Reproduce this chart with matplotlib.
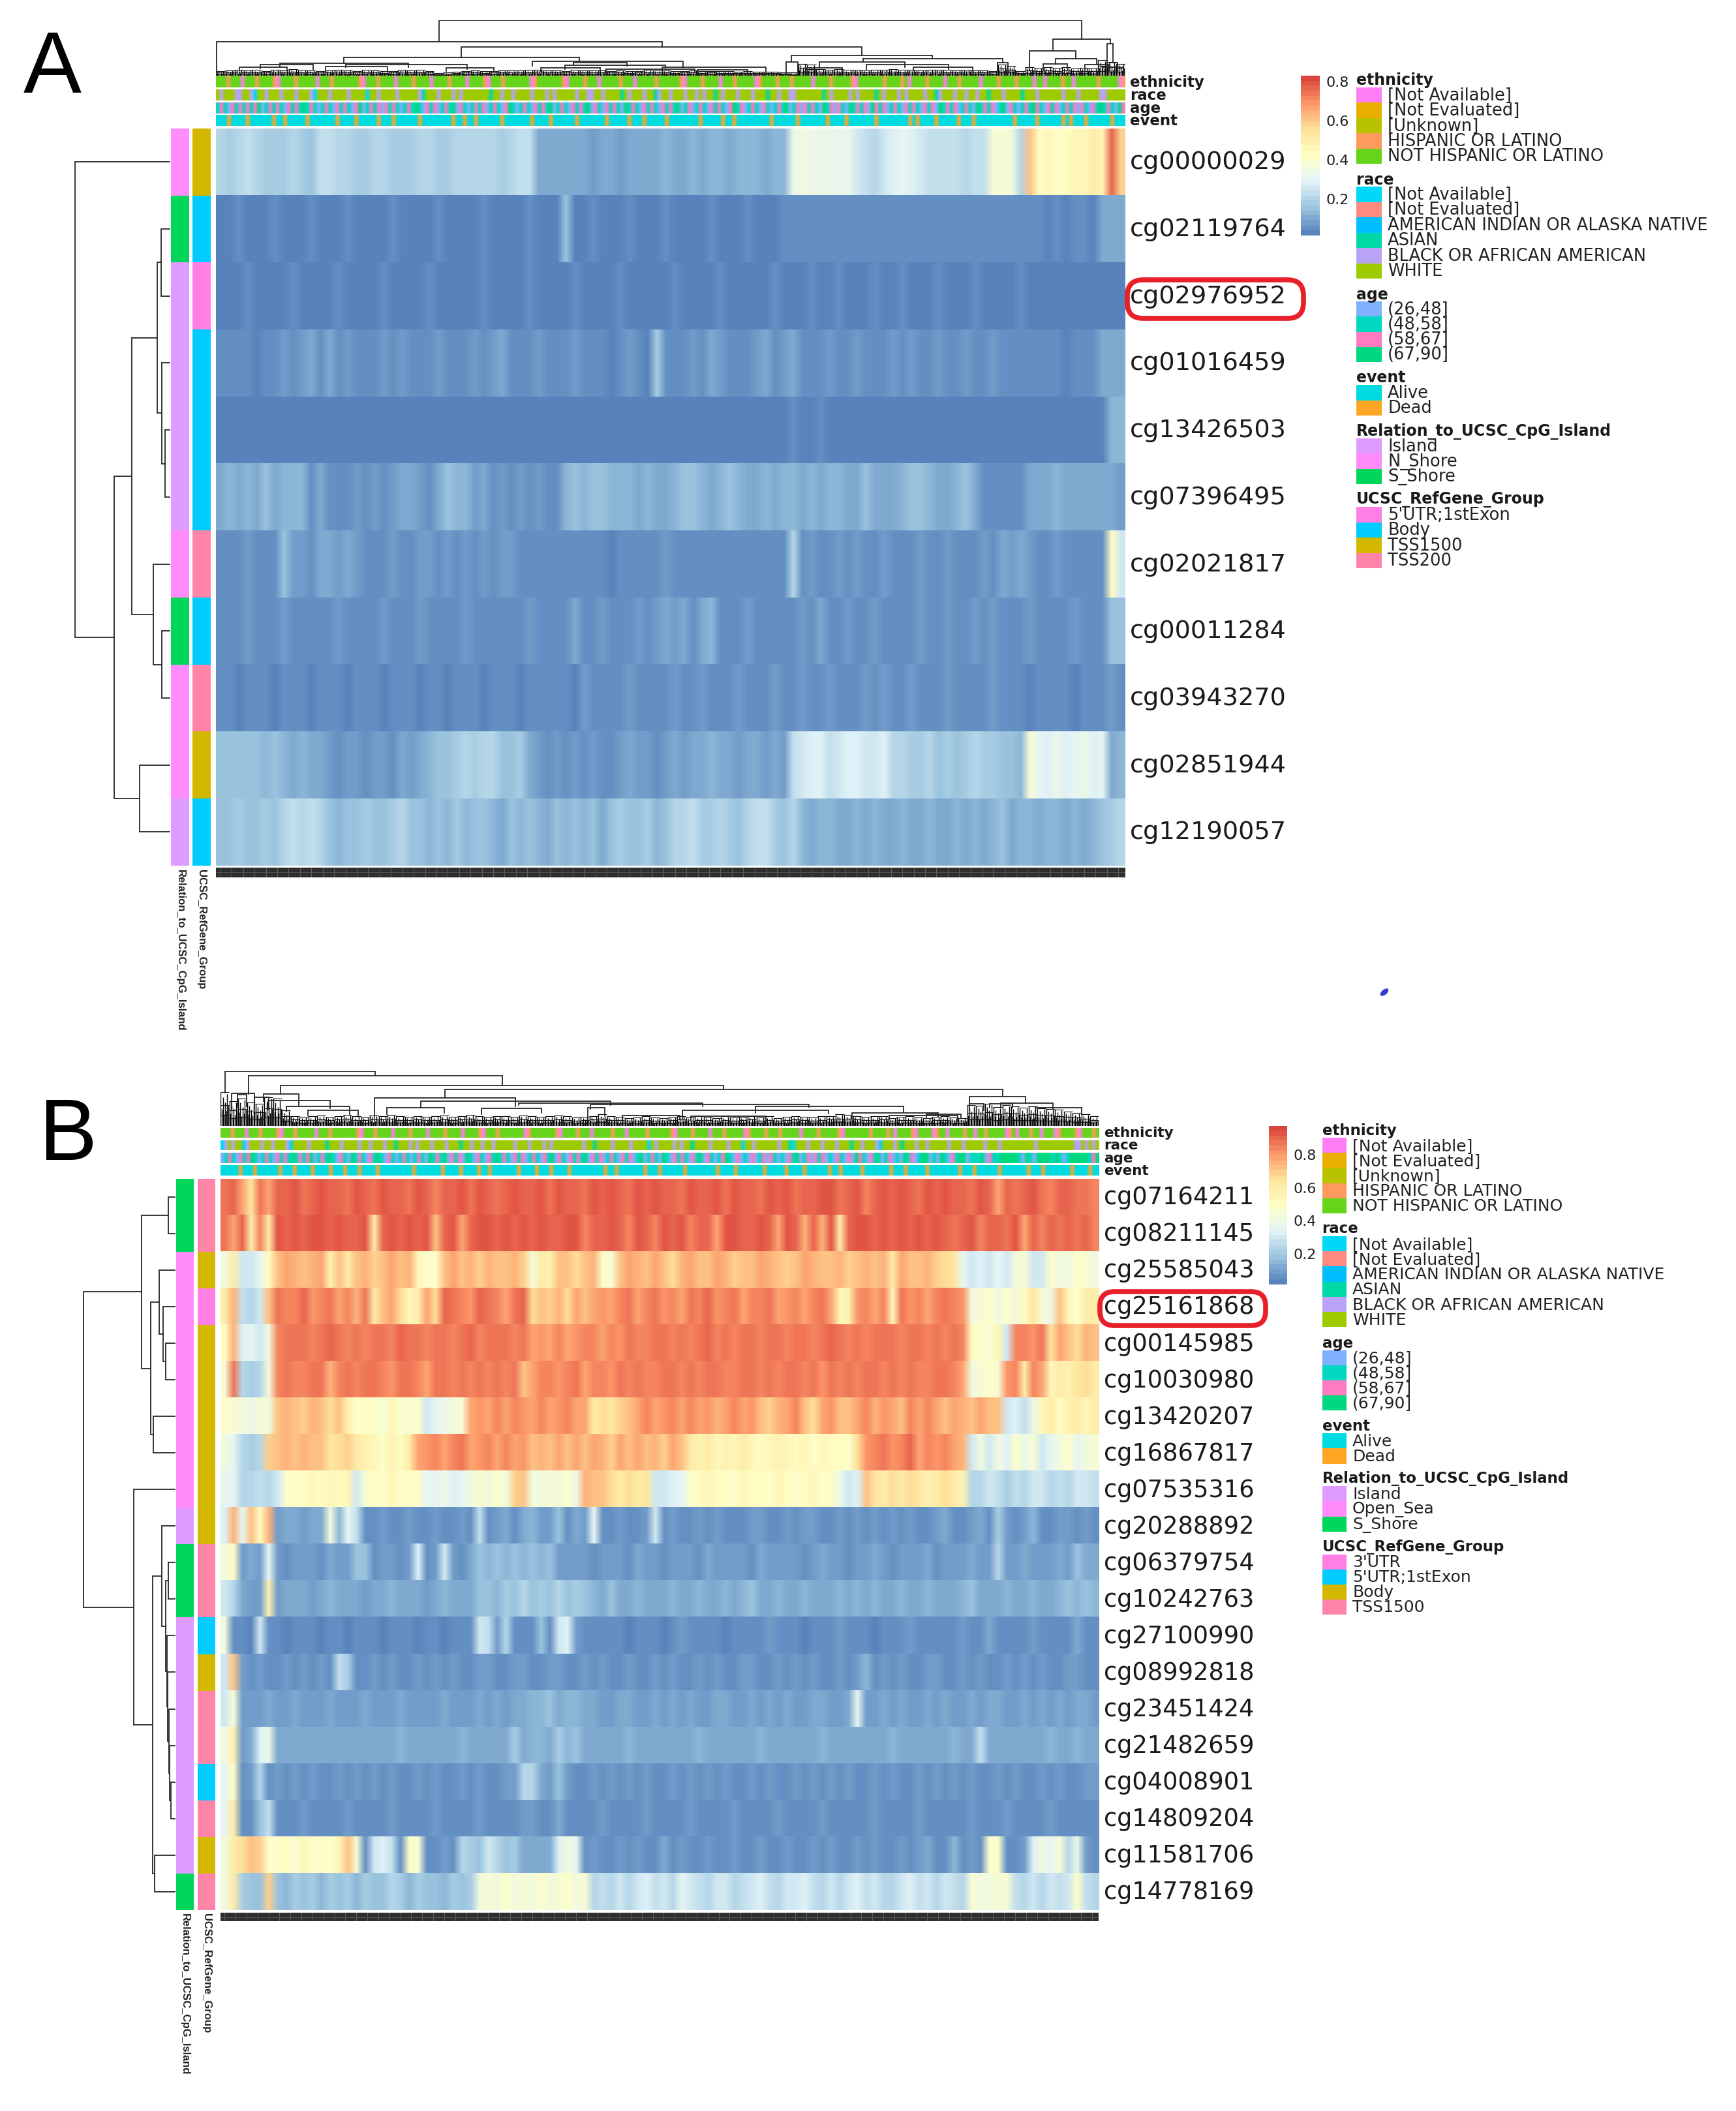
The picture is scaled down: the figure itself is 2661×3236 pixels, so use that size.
import numpy as np
import matplotlib
matplotlib.use("Agg")
import matplotlib.pyplot as plt
from matplotlib.colors import LinearSegmentedColormap, Normalize, to_rgb
from matplotlib.cm import ScalarMappable
from matplotlib.patches import FancyBboxPatch, Rectangle, Ellipse

W, H = 2661, 3237

# ---------- DATA: panel A ----------
a_labels = ["cg00000029","cg02119764","cg02976952","cg01016459","cg13426503","cg07396495",
            "cg02021817","cg00011284","cg03943270","cg02851944","cg12190057"]
a_rows = [
 [19,18,20,22,19,18,17,18,19,17,16,22,23,20,19,18,17,19,20,18,17,18,19,20,18,17,19,20,21,20,19,18,21,22,23,11,10,9,11,10,9,8,10,9,8,10,11,9,10,12,11,10,12,11,13,12,11,12,13,12,11,12,13,33,35,32,34,33,31,32,26,22,20,26,28,30,27,25,23,24,22,23,21,22,24,37,38,35,20,60,44,46,40,42,46,45,50,47,76,58],
 [3,2,4,2,3,2,4,3,2,3,4,2,3,2,4,3,3,2,3,4,3,2,2,3,4,2,2,3,3,4,3,3,2,3,4,3,3,2,14,3,3,4,2,3,3,4,3,2,3,4,3,3,2,3,4,3,3,2,4,3,3,3,4,5,4,6,5,4,5,6,4,5,4,5,4,6,5,4,4,5,6,4,4,5,4,6,4,5,4,4,4,3,4,3,4,4,3,9,10,9],
 [3,2,3,4,2,3,3,2,4,3,2,3,3,4,2,3,3,2,4,3,3,2,3,4,2,3,3,2,3,4,3,2,3,3,4,2,3,3,2,4,3,3,2,3,4,3,2,3,3,2,4,3,2,3,3,4,2,3,3,2,3,4,3,3,3,4,2,3,4,3,3,2,4,3,3,4,2,3,3,4,3,2,3,4,3,3,2,3,4,3,2,3,3,2,3,3,2,3,3,2],
 [5,4,6,5,3,6,4,7,5,8,9,6,10,5,7,6,4,6,8,5,7,4,6,5,7,4,6,5,8,4,7,9,5,6,4,7,5,6,4,7,5,6,4,3,5,7,4,3,18,6,5,4,7,5,10,8,5,4,6,7,9,5,7,10,5,4,5,8,4,6,7,4,5,6,8,4,7,5,6,8,5,4,7,6,5,8,4,6,5,4,6,4,5,3,5,4,6,10,11,9],
 [3,2,3,3,2,3,3,2,3,3,3,2,3,3,2,3,3,2,3,3,2,3,3,2,3,3,2,3,3,3,2,3,3,2,3,3,2,3,3,2,3,3,2,3,3,2,3,3,3,2,3,3,2,3,3,2,3,3,2,3,3,2,3,5,3,3,4,3,2,3,3,3,2,3,3,3,2,3,3,2,3,3,2,3,3,2,3,3,2,3,2,3,3,2,3,3,2,3,13,12],
 [11,12,10,13,11,14,11,12,13,12,5,10,5,6,5,7,6,8,5,8,9,10,7,6,11,14,12,13,8,9,6,7,5,8,6,7,6,5,13,14,12,15,14,13,12,13,11,12,10,11,13,14,15,12,11,12,14,13,11,10,12,11,13,12,10,12,11,12,13,11,11,14,10,9,11,12,14,15,13,11,10,12,14,11,5,4,5,4,5,10,9,11,12,10,9,11,9,10,9,8],
 [6,5,4,7,5,4,5,15,7,8,6,9,10,8,11,7,6,5,6,7,5,6,7,8,6,7,5,8,6,7,5,8,7,6,5,6,5,4,5,4,6,5,4,3,5,4,5,4,6,7,4,5,6,4,5,4,6,5,4,5,4,5,6,20,5,7,6,4,8,5,7,6,5,8,6,5,6,7,5,6,8,6,5,6,7,5,9,8,10,7,6,5,7,6,5,4,6,5,42,25],
 [5,6,5,7,4,6,5,8,6,5,4,6,5,7,5,6,4,5,7,6,4,5,7,6,5,6,4,7,5,6,4,5,6,4,7,5,6,4,5,10,6,5,7,6,4,5,7,6,8,9,7,10,5,11,13,6,5,6,7,4,5,6,5,6,8,5,9,6,5,7,4,6,8,5,6,4,5,7,6,5,7,4,5,8,6,7,5,4,6,7,5,6,4,5,7,5,6,4,15,16],
 [4,5,3,6,4,5,3,5,4,6,3,5,4,5,3,6,4,5,3,5,4,6,3,5,4,3,6,4,5,3,4,6,5,3,4,5,6,4,5,3,7,5,6,4,5,7,4,6,5,4,7,6,5,7,6,4,5,7,6,5,4,7,5,6,8,5,6,7,5,4,6,8,5,7,6,5,8,6,5,4,7,5,6,4,5,7,4,6,5,3,5,4,6,5,3,4,5,4,7,6],
 [15,14,16,15,14,13,15,12,11,13,10,9,7,6,8,7,6,8,7,6,9,7,11,12,15,14,18,19,17,19,20,16,15,18,9,7,6,8,5,7,6,8,5,6,7,9,7,8,6,8,9,7,11,10,12,9,11,8,10,9,7,9,8,22,26,28,29,24,26,29,27,25,26,28,21,19,18,17,19,16,18,15,17,19,18,17,15,14,13,38,31,29,32,28,30,32,29,30,11,12],
 [14,16,18,15,14,17,15,21,22,20,23,21,15,13,16,14,18,16,15,17,19,16,14,13,15,13,17,12,14,15,13,11,14,12,16,13,11,15,12,16,13,15,11,14,17,16,15,17,13,14,20,19,22,18,17,21,18,16,19,22,23,17,15,21,12,11,13,12,10,11,13,10,12,11,9,12,10,11,13,10,9,12,11,13,10,12,14,11,13,12,11,13,12,10,13,11,13,15,17,20],
]
a_rel = [1,2,0,0,0,0,1,2,1,1,0]
a_ref = [2,1,0,1,1,1,3,1,3,2,1]
a_ethnicity = "444344404443444430444434444404443444444430444344440444434444044443444404444304443444444403444444430444434440444443444044444344444430444434444044434444403444434443444440444434444430444444434444340444434444044434444404444344443444404404444344044444434444403"
a_race = "545554455405545554555455540555455554555505545555455555435554555454555555535545545555455545455555455445545555354555455345545554554545535455545554555355455445555555354555545455553545554545555455345554554554553555455553555455555545554555554455555"
a_age = "121021212123012121021213121012102121023012120212101213102120121302101212012102310121021213012102121302102121031210212102121301201210212102312012102101213012021210312021031212032120121021210212031212012103121201302101213210212012120210213121032"
a_event = "000100001000000100100000100000001000010000010001000000100000000100100100000010000000100001000000100000001000001000100000100000000100000100100000000010000001000000010000100000001000000001010000100000100010000000000100000100000010100010000001000"
a_forest = [22,25,28,24,26,22,27,25,30,26,24,22,25,28,24,22,26,24,20,22,28,24,26,22,12,14,18,22,24,20,22,25,23,24,26,28,25,24,22,26,24,23,25,22,24,21,22,26,23,24,20,22,24,21,22,20,21,18,20,19,17,18,15,14,55,50,30,28,30,26,28,24,26,28,30,26,28,25,27,28,26,25,28,24,25,22,52,45,20,38,36,40,35,38,32,36,34,70,62,55]
a_links = [
 (378,1465,253,155,168),(1,755,155,0,132),(415,1093,132,83,92),(216,615,83,57,65),
 (108,326,57,42,38),(75,165,50,32,30),(40,120,40,25,20),(220,425,52,40,30),(185,290,42,25,25),
 (390,470,35,20,20),(535,790,65,45,40),(605,695,60,50,45),(590,760,48,30,35),(550,650,35,20,20),
 (755,930,40,25,15),(660,810,30,15,15),(815,900,28,15,15),(973,1212,92,62,78),(965,985,62,5,5),
 (1095,1331,78,62,60),(1021,1166,62,35,40),(1100,1240,50,30,30),(1000,1060,35,20,20),(1180,1280,40,25,20),
 (1322,1340,60,15,15),(1416,1513,168,113,145),(1376,1455,113,25,76),(1421,1490,76,55,50),(1400,1440,55,25,30),
 (1470,1510,50,20,25),(1508,1518,145,40,60),(1512,1525,60,20,15),(1500,1535,40,15,15),
]
a_tree = (145, 0, (85, (58, (19, (13, 1, 2), (12, 3, (7, 4, 5))), (25, 6, (12, 7, 8))), (46, 9, 10)))

# ---------- DATA: panel B ----------
b_labels = ["cg07164211","cg08211145","cg25585043","cg25161868","cg00145985","cg10030980","cg13420207",
            "cg16867817","cg07535316","cg20288892","cg06379754","cg10242763","cg27100990","cg08992818",
            "cg23451424","cg21482659","cg04008901","cg14809204","cg11581706","cg14778169"]
b_rows = [
 [85,88,78,62,86,76,90,88,91,87,90,92,88,90,86,91,89,87,92,90,88,85,91,89,84,90,88,92,86,91,89,87,90,93,88,90,91,87,92,89,90,86,91,88,93,90,87,91,89,92,90,88,86,91,89,90,92,87,91,88,90,86,92,89,91,87,90,88,93,91,87,90,92,82,89,91,88,92,90,87,91,89,92,88,90,87,91,88,78,90,85,88,92,86,84,90,88,85,86,82],
 [86,78,88,60,82,58,91,90,92,89,91,93,90,92,88,90,91,60,90,92,88,91,89,92,72,90,91,78,89,92,91,88,93,90,91,89,92,90,88,91,93,84,90,88,92,88,84,91,88,82,91,90,92,84,90,88,76,91,92,88,90,93,89,78,91,90,74,88,74,92,60,90,93,91,88,92,90,91,89,93,88,91,90,87,89,92,82,90,88,86,91,78,88,84,90,85,88,86,90,84],
 [42,60,30,30,35,50,72,76,74,70,75,78,55,72,58,70,74,68,72,76,70,74,52,48,46,72,76,70,74,68,75,72,70,74,68,44,60,56,72,70,66,70,74,46,44,72,78,74,70,76,72,66,74,78,70,72,76,74,68,72,70,76,74,70,68,72,76,74,72,70,74,68,72,75,70,74,60,76,72,70,74,68,64,62,34,28,32,30,36,28,42,44,30,28,48,40,42,46,44,42],
 [60,75,26,24,28,72,86,84,82,88,80,84,86,78,82,74,85,58,70,78,64,54,60,76,64,88,86,84,80,88,85,82,78,86,88,64,72,68,74,66,76,72,76,80,78,84,86,76,82,86,80,84,78,86,82,88,80,84,86,78,82,84,86,78,80,84,78,82,86,76,52,56,80,84,78,82,54,86,80,84,76,82,86,84,80,42,44,46,42,48,40,50,62,44,38,70,52,46,60,58],
 [50,75,32,36,30,40,84,86,85,87,84,86,88,85,84,86,83,87,85,84,88,85,86,84,87,85,83,86,88,84,86,85,87,84,86,76,80,78,82,76,80,84,82,78,84,80,86,82,84,86,85,83,87,84,86,88,84,85,83,87,86,84,85,87,83,86,85,84,86,88,85,84,86,83,87,85,86,84,87,85,83,86,84,87,82,50,46,44,52,28,82,84,80,86,62,78,72,66,74,70],
 [45,85,22,20,24,42,84,86,84,82,86,85,74,84,86,83,85,87,84,80,85,86,84,76,85,87,84,86,82,85,84,86,83,85,72,78,84,82,80,84,86,76,84,82,80,85,83,86,84,82,85,87,84,86,83,85,87,84,82,86,85,84,86,83,85,87,84,86,80,85,84,86,82,85,87,84,86,83,85,84,82,86,85,84,78,42,45,48,44,80,84,58,82,78,52,60,56,62,64,58],
 [46,44,40,38,44,42,70,74,72,68,74,70,66,72,56,48,50,46,44,52,48,44,46,30,34,38,42,44,78,80,76,82,78,84,80,76,82,78,80,84,78,76,60,66,62,68,70,78,82,76,80,84,78,82,76,80,74,78,82,76,80,72,68,74,78,82,72,64,76,80,70,72,78,82,74,80,76,70,82,78,84,76,72,78,74,72,76,70,72,28,32,26,38,52,58,50,56,60,54,58],
 [40,36,24,20,22,68,72,74,70,75,72,70,62,66,68,60,56,54,48,55,50,60,76,80,84,78,82,86,76,80,84,78,82,76,80,72,74,70,78,72,76,70,78,74,68,76,72,78,70,74,68,76,72,60,56,58,52,56,54,58,52,50,54,56,52,50,54,48,52,50,50,48,64,80,84,86,80,82,88,78,84,80,82,78,74,30,40,28,42,32,48,38,44,30,36,42,46,34,40,44],
 [35,36,24,22,25,23,30,46,50,48,52,50,54,49,52,30,44,50,46,52,48,50,46,36,34,38,32,36,42,44,40,46,42,68,70,42,40,44,42,46,38,74,70,72,64,60,66,58,62,30,28,32,34,48,50,52,49,51,48,52,50,49,48,52,50,48,51,52,48,50,38,30,32,70,62,60,66,58,64,62,56,60,66,58,56,24,22,28,25,20,26,24,28,30,22,26,24,28,30,25],
 [32,75,35,70,50,75,8,10,12,9,11,10,40,14,34,26,6,5,7,6,5,8,6,5,7,5,6,8,5,25,5,8,10,6,12,14,7,8,16,5,10,9,35,6,5,7,5,6,8,30,5,7,6,5,8,5,7,6,5,5,8,7,5,6,8,5,7,9,5,6,8,5,7,6,9,5,8,5,7,6,5,8,10,6,5,9,11,5,20,7,6,8,14,6,5,7,9,5,8,6],
 [40,50,8,10,7,36,7,6,8,7,9,6,10,7,8,16,18,6,7,8,6,9,32,6,8,30,7,6,12,16,14,18,15,17,13,16,14,18,8,9,7,8,6,9,7,8,6,10,7,8,6,9,8,7,6,10,8,7,9,8,6,10,7,8,9,7,6,8,10,7,9,6,8,7,10,8,6,9,7,8,10,6,9,7,8,10,7,8,22,9,8,10,7,9,8,12,9,16,11,10],
 [30,22,10,9,8,55,9,11,10,12,9,11,13,10,12,11,9,12,10,13,11,10,12,9,11,13,10,12,11,16,18,14,20,16,22,18,20,16,22,18,20,16,14,12,16,11,10,13,11,12,10,14,12,11,13,10,12,14,11,13,16,12,11,14,12,10,13,11,12,10,14,11,13,12,15,11,10,13,12,11,14,10,12,11,13,18,12,10,11,13,12,11,14,12,10,13,16,14,18,15],
 [42,5,4,3,28,5,4,3,5,4,6,3,5,4,3,6,5,4,3,5,6,4,3,5,4,3,6,5,4,28,26,7,22,4,6,5,17,5,30,32,9,4,5,6,4,5,3,6,5,4,3,6,7,5,4,6,5,3,4,6,5,4,7,6,4,5,3,6,4,5,7,4,6,5,3,6,5,4,7,5,6,4,6,5,7,6,5,12,6,4,6,5,7,4,6,5,4,12,5,6],
 [30,70,7,5,8,6,5,7,6,8,5,7,6,26,20,6,5,7,6,8,5,6,7,5,8,6,7,5,6,8,7,5,6,8,7,6,5,7,8,6,5,7,6,8,5,6,7,5,6,8,5,7,6,5,8,6,7,5,6,7,8,5,6,7,5,8,6,7,5,6,8,5,7,14,6,8,5,7,6,5,8,7,6,5,7,6,8,5,6,7,5,8,6,7,5,6,8,7,6,5],
 [30,45,8,9,7,10,8,9,10,8,7,9,10,8,9,7,10,8,9,7,10,9,8,7,9,10,8,9,7,10,8,11,9,12,11,14,13,16,12,15,14,11,10,8,9,11,10,8,9,10,8,11,9,10,8,9,11,10,9,8,10,9,11,8,10,9,8,11,10,9,8,10,36,9,8,10,9,11,8,9,10,8,11,9,8,10,9,11,10,9,8,10,9,11,8,10,9,11,10,9],
 [40,55,9,10,32,38,11,10,12,11,10,12,10,11,12,10,11,12,10,11,13,10,12,11,10,12,11,13,10,12,11,10,12,20,12,14,13,12,20,14,16,12,11,10,12,11,13,10,12,11,10,12,11,10,13,12,10,11,12,10,11,13,12,10,11,12,10,11,13,12,10,12,11,10,12,11,13,10,12,11,10,12,11,13,10,12,26,11,10,12,11,10,12,11,13,10,12,14,11,12],
 [35,50,6,7,22,6,7,5,8,6,7,5,6,8,5,7,6,8,5,7,6,5,8,6,7,5,6,8,5,7,6,5,8,7,24,23,10,8,18,7,6,5,8,6,7,5,8,6,7,5,6,8,5,7,6,8,5,7,6,5,8,6,7,5,6,8,5,7,6,8,5,7,6,5,8,6,7,5,6,8,5,7,6,8,5,7,6,5,8,6,7,5,6,8,5,7,6,5,8,7],
 [35,60,5,6,16,26,5,6,4,7,5,6,4,5,7,6,4,5,6,7,4,5,6,4,7,5,6,4,5,7,6,5,4,6,8,7,5,6,10,5,4,6,5,7,4,6,5,4,7,6,5,4,6,7,5,4,6,5,7,4,6,5,4,7,5,6,4,5,7,6,5,4,6,5,7,4,6,5,4,7,6,5,4,6,5,7,4,6,5,7,4,6,5,4,7,5,6,4,6,5],
 [42,60,65,72,68,48,46,50,45,52,46,50,48,52,70,45,6,30,32,26,5,48,45,6,5,7,6,24,20,16,30,24,16,20,11,10,12,11,32,42,36,5,7,6,4,8,5,7,6,4,10,5,8,6,4,7,5,6,8,5,4,7,6,5,8,4,6,7,5,8,6,4,7,5,8,6,4,7,5,8,12,6,4,14,6,8,5,48,46,6,5,8,32,42,36,45,22,38,8,6],
 [42,60,20,18,16,68,18,14,20,16,21,15,19,17,21,14,20,18,16,22,20,15,21,18,16,14,20,17,21,42,44,40,46,42,45,40,48,42,44,46,41,43,24,27,22,30,24,28,33,26,30,24,35,28,26,22,30,28,24,26,30,33,26,24,30,28,33,26,22,30,24,28,33,26,30,24,22,28,33,26,30,24,28,26,22,44,42,40,45,43,26,22,30,24,28,26,30,48,26,22],
]
b_rel = [2,2,1,1,1,1,1,1,1,0,2,2,0,0,0,0,0,0,0,2]
b_ref = [3,3,2,0,2,2,2,2,2,2,3,3,1,2,3,3,1,3,2,3]
b_ethnicity = "444344404443444430444344444044434444444304443444404444344440444434444044443044434444444034444444304444344404444434440444443444444304444344440444344444034444344434444404444344444304444444344443404444304444034404444344044344444034044434404440344443044434"
b_race = "045455045554554555405555455553555455554554555455355545455545554555355455455455555455545554545555555545535555455554555505455554545535555455554555055455555545530555455545554555355455540555453555455455555455545555545554555555555455555555554454545"
b_age = "012102123101210212131212301213102103121021310210121012103121302120310210213121021201210213021021213021201210212013012103102121021302101231020102012021010213012021201021020321021301201031201330103102133011130211333331031033331310133333123"
b_event = "000001000100000010001000010000100010001000010000000001000000010000100001001000000010000100010000100000000010010000000100010000001000000001000010000000100000100001000000100100000100000001000100000100000000100010000001000000010001000000010000100"
b_forest = [130,95,105,90,85,110,105,60,38,34,36,40,35,38,42,36,34,40,38,42,36,34,38,35,36,40,34,38,42,36,35,38,36,34,40,37,34,36,40,36,32,35,38,45,36,34,30,33,36,32,30,34,38,32,36,34,30,36,32,34,38,33,36,30,34,38,35,32,36,38,45,42,38,34,36,38,30,34,36,32,30,34,36,32,30,80,78,85,72,80,76,70,74,68,66,62,56,50,44,36]
b_links = [
 (9,270,213,128,195),(49,492,195,123,155),(105,877,155,122,140),(75,137,122,95,80),(83,192,98,62,68),
 (115,225,75,55,45),(153,240,60,40,35),(391,1363,140,108,113),(269,514,108,30,75),(290,390,70,45,50),
 (349,680,95,70,80),(455,560,68,45,50),(520,840,88,80,75),(640,670,70,25,40),(645,1025,83,65,72),
 (805,1060,60,30,48),(932,1190,76,50,52),(1100,1250,50,30,35),(700,800,40,25,25),(1165,1285,40,25,20),
 (820,950,38,20,20),(1305,1403,113,85,88),(1340,1380,85,70,70),(1360,1450,88,70,65),(1420,1500,70,55,45),
 (1305,1330,85,60,60),(1230,1290,45,30,30),(20,60,125,60,80),(30,46,120,70,75),(60,85,110,60,70),
]
b_tree = (140, (51, (10, 0, 1), (37, (24, 2, (18, 3, (14, 4, 5))), (33, 6, 7))),
          (63, 8, (34, (20, 9, (14, (10, 10, 11),
                                (12, 12, (11, 13, (9, 14, (8, 15, (6, 16, 17))))))),
                   (31, 18, 19))))

# ---------- legends ----------
eth_names = ["[Not Available]","[Not Evaluated]","[Unknown]","HISPANIC OR LATINO","NOT HISPANIC OR LATINO"]
eth_cols = ["#FF7DF5","#E8AE00","#B8C200","#FF9A5C","#66D41A"]
race_names = ["[Not Available]","[Not Evaluated]","AMERICAN INDIAN OR ALASKA NATIVE","ASIAN","BLACK OR AFRICAN AMERICAN","WHITE"]
race_cols = ["#00D8F8","#FF8A80","#00BEFF","#00D9A5","#B9A3F5","#9DCB00"]
age_names = ["(26,48]","(48,58]","(58,67]","(67,90]"]
age_cols = ["#80B1FF","#00D9C0","#FF7AC0","#00D87F"]
event_names = ["Alive","Dead"]
event_cols = ["#00DBE0","#FFA625"]
a_rel_names = ["Island","N_Shore","S_Shore"]
b_rel_names = ["Island","Open_Sea","S_Shore"]
rel_cols = ["#DF9BFF","#FF8CFA","#00D65A"]
a_ref_names = ["5'UTR;1stExon","Body","TSS1500","TSS200"]
b_ref_names = ["3'UTR","5'UTR;1stExon","Body","TSS1500"]
ref_cols = ["#FF7FE5","#00CCFF","#D4B800","#FF85A8"]
bar_names = ["ethnicity","race","age","event"]
cbar_ticks = [0.2,0.4,0.6,0.8]

# ---------- helpers ----------
base = ["#4575B4","#91BFDB","#E0F3F8","#FFFFBF","#FEE090","#FC8D59","#D73027"]
rgb = np.array([to_rgb(c) for c in base])*0.9+0.1
cmap = LinearSegmentedColormap.from_list("rb", [tuple(c) for c in rgb], N=32)

fig = plt.figure(figsize=(W/100, H/100), dpi=100, facecolor="white")
def axpx(x0, y0, x1, y1):
    a = fig.add_axes([x0/W, 1-y1/H, (x1-x0)/W, (y1-y0)/H])
    a.set_axis_off()
    return a
top = fig.add_axes([0,0,1,1], zorder=20)
top.set_xlim(0,W); top.set_ylim(H,0); top.set_axis_off(); top.patch.set_alpha(0)

TXT = "DejaVu Sans"

def heat(rows, box, vmin, vmax):
    ax = axpx(*box)
    n = len(rows)
    norm = Normalize(vmin, vmax)
    for i, r in enumerate(rows):
        colours = cmap(norm(np.array(r, float)/100))[:,:3]
        ax.imshow(colours[None,:,:], extent=(0,1,n-i-1,n-i), aspect="auto", interpolation="bilinear")
    ax.set_xlim(0,1); ax.set_ylim(0,n)

def strip(vals, cols, box, vertical=False):
    ax = axpx(*box)
    c = np.array([to_rgb(cols[v]) for v in vals])
    arr = c[:,None,:] if vertical else c[None,:,:]
    ax.imshow(arr, aspect="auto", interpolation="nearest" if vertical else "bilinear")

def digits(s):
    return [int(c) for c in s]

def top_dendro(links, forest, box, xmax, ymax):
    ax = axpx(*box)
    ax.set_xlim(0,xmax); ax.set_ylim(0,ymax)
    w = xmax/len(forest)
    pattern = (1.0,0.5,0.85,0.35,0.7,0.45,0.95,0.6)
    fx, fh = [], []
    for i, h in enumerate(forest):
        for j, k in enumerate(pattern):
            fx.append((i+j/len(pattern)+0.05)*w); fh.append(h*k)
    ax.vlines(fx, 0, fh, color="#000000", lw=1.0)
    for i, h in enumerate(forest):
        ax.hlines([h,h*0.62,h*0.3], i*w, (i+1)*w, color="#111111", lw=0.8)
    for xl, xr, t, bl, br in links:
        ax.plot([xl,xl,xr,xr],[bl,t,t,br], color="#262626", lw=1.3, solid_joinstyle="miter")

def side_tree(tree, box, dmax, n):
    ax = axpx(*box)
    ax.set_xlim(dmax,0); ax.set_ylim(n,0)
    def rec(node):
        if isinstance(node,int):
            return node+0.5, 0
        d,l,r = node
        yl,dl = rec(l); yr,dr = rec(r)
        ax.plot([dl,d,d,dr],[yl,yl,yr,yr], color="#262626", lw=1.3, solid_joinstyle="miter", clip_on=False)
        return (yl+yr)/2, d
    rec(tree)

def cbar(box, vmin, vmax, fs):
    cax = fig.add_axes([box[0]/W, 1-box[3]/H, (box[2]-box[0])/W, (box[3]-box[1])/H])
    cb = fig.colorbar(ScalarMappable(Normalize(vmin,vmax),cmap), cax=cax, ticks=cbar_ticks)
    cb.outline.set_visible(False)
    cb.ax.tick_params(length=0, pad=7, labelsize=fs, colors="#222222")
    cb.set_ticklabels(["%.1f"%t for t in cbar_ticks])

def legend_group(title, names, cols, ttl_y, y0, y1, sx0, sx1, tx, fs):
    top.text(sx0, ttl_y, title, fontsize=fs-1.5, fontweight="bold", va="center", family=TXT, color="#1a1a1a")
    step = (y1-y0)/len(names)
    for i,(nm,c) in enumerate(zip(names,cols)):
        top.add_patch(Rectangle((sx0,y0+i*step),sx1-sx0,step,fc=c,ec="none"))
        top.text(tx,y0+(i+.5)*step,nm,fontsize=fs,va="center",family=TXT,color="#222222")

def tick_block(box):
    ax = axpx(*box)
    ax.set_xlim(0,1); ax.set_ylim(0,1)
    ax.add_patch(Rectangle((0,0),1,1,fc="#2e2e2e",ec="none"))
    ax.vlines(np.arange(0.005,1,0.0125),0,1,color="#6a6a6a",lw=0.6)
    ax.hlines([0.5],0,1,color="#555555",lw=0.6)

# ---------- panel A ----------
AX0, AX1, AY0, AY1 = 331, 1724.5, 198, 1327.7
heat(a_rows,(AX0,AY0,AX1,AY1),0.01,0.83)
top_dendro(a_links,a_forest,(AX0,32,AX1,117),1538,253)
side_tree(a_tree,(115,AY0,259.5,AY1),145,11)
for s,c,(y0,y1) in zip((a_ethnicity,a_race,a_age,a_event),(eth_cols,race_cols,age_cols,event_cols),((117,135),(138,155),(158,175),(177,194))):
    strip(digits(s),c,(AX0,y0,AX1,y1))
for nm,(y0,y1) in zip(bar_names,((117,135),(138,155),(158,175),(177,194))):
    top.text(1732,(y0+y1)/2,nm,fontsize=16.5,fontweight="bold",va="center",family=TXT,color="#1a1a1a")
strip(a_rel,rel_cols,(262,AY0,290,AY1),True)
strip(a_ref,ref_cols,(295,AY0,323,AY1),True)
tick_block((AX0,1331,AX1,1345.5))
rh = (AY1-AY0)/11
for i,l in enumerate(a_labels):
    top.text(1732,AY0+(i+.5)*rh,l,fontsize=27.5,va="center",family=TXT,color="#1a1a1a")
top.text(276,1333,"Relation_to_UCSC_CpG_Island",rotation=-90,fontsize=12,fontweight="bold",family="Liberation Sans",ha="center",va="top",color="#222222")
top.text(309,1333,"UCSC_RefGene_Group",rotation=-90,fontsize=12,fontweight="bold",family="Liberation Sans",ha="center",va="top",color="#222222")
cbar((1994,117,2023,362),0.01,0.827,16)
lA = dict(sx0=2079,sx1=2118,tx=2127,fs=18.5)
legend_group("ethnicity",eth_names,eth_cols,123,135,252,**lA)
legend_group("race",race_names,race_cols,276,287,428,**lA)
legend_group("age",age_names,age_cols,452,463,556,**lA)
legend_group("event",event_names,event_cols,579,591,638,**lA)
legend_group("Relation_to_UCSC_CpG_Island",a_rel_names,rel_cols,662,673,743,**lA)
legend_group("UCSC_RefGene_Group",a_ref_names,ref_cols,766,778,872,**lA)
top.add_patch(FancyBboxPatch((1728,430),270,59,boxstyle="round,pad=0,rounding_size=24",fc="none",ec="#E8202A",lw=5.5))
top.add_patch(Ellipse((2122,1522),15,8,angle=-40,fc="#3a3ad0",ec="none"))
top.text(36,142,"A",fontsize=96,family="Liberation Sans",va="baseline",color="black")

# ---------- panel B ----------
BX0, BX1, BY0, BY1 = 337.5, 1684, 1807.8, 2928.8
heat(b_rows,(BX0,BY0,BX1,BY1),0.01,0.97)
top_dendro(b_links,b_forest,(BX0,1642.5,BX1,1726.7),1530,213)
side_tree(b_tree,(128,BY0,268,BY1),140,20)
for s,c,(y0,y1) in zip((b_ethnicity,b_race,b_age,b_event),(eth_cols,race_cols,age_cols,event_cols),((1729.5,1745),(1748.5,1764),(1768,1784),(1787,1803))):
    strip(digits(s),c,(BX0,y0,BX1,y1))
for nm,(y0,y1) in zip(bar_names,((1729.5,1745),(1748.5,1764),(1768,1784),(1787,1803))):
    top.text(1692,(y0+y1)/2,nm,fontsize=15.5,fontweight="bold",va="center",family=TXT,color="#1a1a1a")
strip(b_rel,rel_cols,(270,BY0,297,BY1),True)
strip(b_ref,ref_cols,(302.5,BY0,329.5,BY1),True)
tick_block((BX0,2933,BX1,2946))
rh = (BY1-BY0)/20
for i,l in enumerate(b_labels):
    top.text(1692,BY0+(i+.5)*rh,l,fontsize=26.5,va="center",family=TXT,color="#1a1a1a")
top.text(283,2933,"Relation_to_UCSC_CpG_Island",rotation=-90,fontsize=12,fontweight="bold",family="Liberation Sans",ha="center",va="top",color="#222222")
top.text(316,2933,"UCSC_RefGene_Group",rotation=-90,fontsize=12,fontweight="bold",family="Liberation Sans",ha="center",va="top",color="#222222")
cbar((1945,1726.7,1972.6,1969.6),0.012,0.971,16)
lB = dict(sx0=2026.5,sx1=2064,tx=2073,fs=18)
legend_group("ethnicity",eth_names,eth_cols,1734,1745,1861,**lB)
legend_group("race",race_names,race_cols,1884,1896,2035.4,**lB)
legend_group("age",age_names,age_cols,2060,2070.6,2163,**lB)
legend_group("event",event_names,event_cols,2186.4,2198,2244.6,**lB)
legend_group("Relation_to_UCSC_CpG_Island",b_rel_names,rel_cols,2266.5,2279.3,2348.7,**lB)
legend_group("UCSC_RefGene_Group",b_ref_names,ref_cols,2371.6,2384,2476,**lB)
top.add_patch(FancyBboxPatch((1686,1981),254,52,boxstyle="round,pad=0,rounding_size=22",fc="none",ec="#E8202A",lw=5.5))
top.text(60,1778,"B",fontsize=96,family="Liberation Sans",va="baseline",color="black")

fig.savefig("out.png", dpi=100, facecolor="white")
